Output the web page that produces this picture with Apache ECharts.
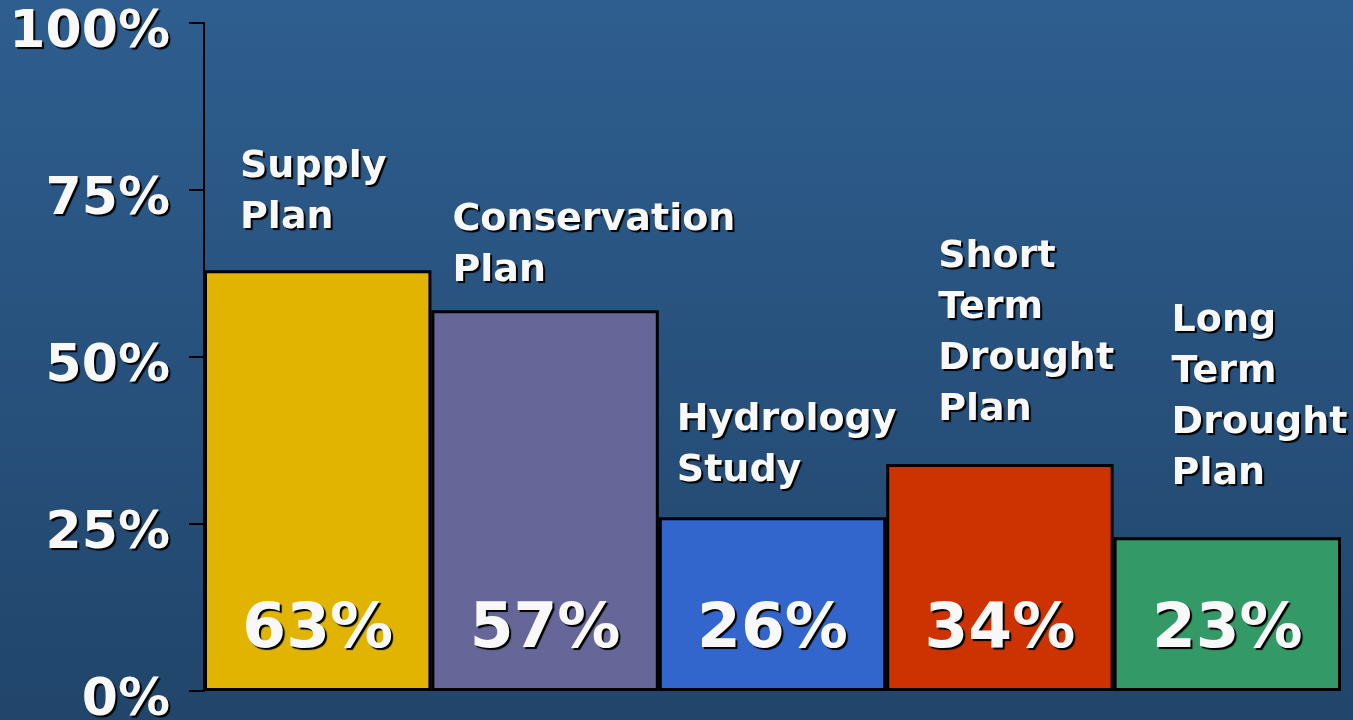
<!DOCTYPE html>
<html><head><meta charset="utf-8">
<script src="https://cdn.jsdelivr.net/npm/echarts@6/dist/echarts.min.js"></script>
<style>html,body{margin:0;padding:0;}#c{width:1353px;height:720px;}</style>
</head><body><div id="c"></div>
<script>
const categories = ['Supply\nPlan', 'Conservation\nPlan', 'Hydrology\nStudy', 'Short\nTerm\nDrought\nPlan', 'Long\nTerm\nDrought\nPlan'];
const values = [63, 57, 26, 34, 23];
const yTicks = [0, 25, 50, 75, 100];
const barColors = ['#e0b400', '#666699', '#3366cc', '#cc3300', '#339966'];
// label placement relative to each bar's top-left corner (style only)
const catLabelPos = [[36, -27], [21, -14], [18, -21], [52, -28], [58, -38]];

const chart = echarts.init(document.getElementById('c'));
const FONT = 'DejaVu Sans';
const shadow = {textShadowColor: '#000', textShadowOffsetX: 2, textShadowOffsetY: 2, textShadowBlur: 1};
chart.setOption({
  backgroundColor: new echarts.graphic.LinearGradient(0, 0, 0, 1, [
    {offset: 0, color: '#2e5e8f'}, {offset: 1, color: '#21456b'}]),
  animation: false,
  grid: {left: 204, right: 12, top: 23, bottom: 29, outerBoundsMode: 'none', containLabel: false},
  xAxis: {
    type: 'category', data: categories,
    axisLine: {show: false}, axisTick: {show: false}, axisLabel: {show: false}
  },
  yAxis: {
    type: 'value', min: yTicks[0], max: yTicks[yTicks.length - 1], interval: 25,
    splitLine: {show: false},
    axisLine: {show: true, lineStyle: {color: '#000', width: 2}},
    axisTick: {show: true, length: 15, lineStyle: {color: '#000', width: 2}},
    axisLabel: {
      formatter: v => '{a|' + v + '%}', margin: 34,
      rich: {a: Object.assign({
        color: '#f8f8f8', fontFamily: FONT, fontWeight: 'bold', fontSize: 52,
        lineHeight: 52, padding: [21, 0, 0, 0]
      }, shadow)}
    }
  },
  series: [{
    type: 'bar', barCategoryGap: 0,
    data: values.map((v, i) => ({value: v, itemStyle: {color: barColors[i]}})),
    itemStyle: {borderColor: '#000', borderWidth: 3},
    label: Object.assign({
      show: true, position: 'insideBottom', distance: 29, formatter: '{c}%',
      color: '#f8f8f8', fontFamily: FONT, fontWeight: 'bold', fontSize: 63
    }, shadow)
  }, {
    type: 'bar', barGap: '-100%', barCategoryGap: 0, silent: true,
    data: values.map((v, i) => ({value: v, label: {position: catLabelPos[i]}})),
    itemStyle: {color: 'rgba(0,0,0,0)'},
    label: Object.assign({
      show: true, formatter: p => categories[p.dataIndex], align: 'left', verticalAlign: 'bottom',
      color: '#f8f8f8', fontFamily: FONT, fontWeight: 'bold', fontSize: 38, lineHeight: 51
    }, shadow)
  }]
});
</script></body></html>
